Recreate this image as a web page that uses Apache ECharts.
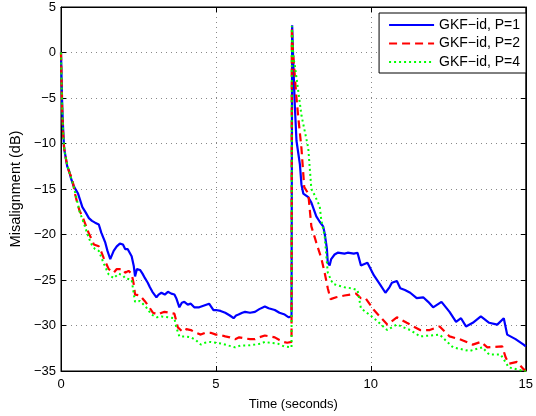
<!DOCTYPE html>
<html>
<head>
<meta charset="utf-8">
<script src="https://cdn.jsdelivr.net/npm/echarts@6/dist/echarts.min.js"></script>
<style>html,body{margin:0;padding:0;background:#fff}#c{width:536px;height:416px}</style>
</head>
<body>
<div id="c"></div>
<script>
var xTicks = [0, 5, 10, 15];
var yTicks = [5, 0, -5, -10, -15, -20, -25, -30, -35];
var seriesNames = ['GKF\u2212id, P=1', 'GKF\u2212id, P=2', 'GKF\u2212id, P=4'];

var tP1 = [0,0.02,0.04,0.07,0.1,0.15,0.2,0.26,0.32,0.4,0.48,0.55,0.6,0.69,0.8,0.9,1.0,1.1,1.22,1.3,1.43,1.5,1.59,1.7,1.8,1.9,2.0,2.07,2.15,2.28,2.35,2.39,2.45,2.55,2.63,2.71,2.8,2.87,2.95,3.08,3.15,3.24,3.35,3.45,3.56,3.66,3.72,3.82,3.9,3.98,4.09,4.19,4.3,4.46,4.62,4.78,4.92,5.0,5.15,5.3,5.45,5.57,5.65,5.73,5.85,5.94,6.1,6.26,6.4,6.58,6.7,6.9,7.05,7.22,7.35,7.44,7.46,7.5,7.55,7.6,7.71,7.76,7.82,7.98,8.08,8.24,8.35,8.46,8.51,8.58,8.61,8.67,8.72,8.83,8.93,8.99,9.15,9.25,9.31,9.45,9.57,9.68,9.89,10.1,10.3,10.47,10.6,10.68,10.84,10.95,11.1,11.27,11.48,11.69,11.85,12.01,12.28,12.54,12.75,12.91,13.07,13.29,13.55,13.82,14.08,14.29,14.4,14.67,14.93,15];
var vP1 = [0,-3,-6,-8.5,-10.5,-11.5,-12.5,-13,-13.8,-14.6,-15.1,-15.5,-15.4,-17,-17.6,-18.2,-18.5,-18.7,-18.9,-19.8,-20.9,-21.8,-22.7,-21.8,-21.3,-21.0,-21.1,-21.6,-21.6,-22.4,-23.5,-24.6,-23.8,-23.9,-24.3,-24.8,-25.3,-25.8,-26.3,-26.9,-26.6,-26.4,-26.6,-26.3,-26.5,-26.6,-27,-28,-27.5,-27.4,-27.7,-27.6,-28,-28,-27.8,-27.6,-28.3,-28.3,-28.4,-28.6,-28.9,-29.2,-28.9,-28.8,-28.6,-28.5,-28.6,-28.5,-28.2,-27.9,-28.1,-28.3,-28.6,-28.8,-29.1,-29,3,-1.5,-6.1,-9.7,-12.3,-14.5,-15.5,-15.9,-16.5,-18,-18.6,-19.1,-19.9,-21.5,-23.1,-23.4,-22.7,-22.2,-22,-21.8,-22.1,-22.0,-21.9,-22.1,-22.0,-23.4,-23.1,-24.5,-25.5,-26.4,-25.8,-25.3,-25.1,-25.9,-26.1,-26.4,-27,-26.9,-27.4,-28,-27.4,-28.5,-29.6,-29.2,-30.1,-29.7,-29,-29.7,-29.9,-29.2,-31,-31.5,-32.1,-32.3];

var tP2 = [0,0.02,0.04,0.07,0.1,0.17,0.25,0.37,0.45,0.53,0.6,0.69,0.8,0.9,1.0,1.06,1.22,1.3,1.38,1.54,1.7,1.8,1.86,2.0,2.07,2.18,2.28,2.35,2.39,2.55,2.7,2.81,2.97,3.13,3.25,3.34,3.5,3.66,3.72,3.77,3.93,4.05,4.19,4.35,4.51,4.65,4.83,5.0,5.1,5.3,5.45,5.62,5.75,5.9,6.1,6.26,6.4,6.58,6.75,6.9,7.05,7.17,7.3,7.44,7.45,7.48,7.6,7.66,7.76,7.85,7.98,8.08,8.24,8.4,8.51,8.61,8.7,8.88,9.15,9.52,9.68,9.83,10.1,10.53,10.84,11.16,11.59,11.9,12.22,12.54,12.86,13.29,13.55,13.76,14.24,14.35,14.45,14.72,14.93,15];
var vP2 = [0,-3.5,-6.5,-9,-10.5,-11.9,-13,-14,-15.5,-16.6,-17.4,-18,-19,-19.9,-20.6,-21.1,-21.3,-21.9,-22.6,-23.8,-24.2,-23.8,-23.6,-23.8,-24.2,-24.0,-24.3,-25.5,-26.6,-26.7,-27.3,-27.8,-28.6,-28.8,-28.6,-28.5,-28.6,-28.7,-29.5,-30.2,-30.7,-30.4,-30.5,-30.8,-31,-30.8,-30.8,-31,-31,-31.2,-31.3,-31.5,-31.3,-31.4,-31.5,-31.5,-31.3,-31.1,-31.2,-31.3,-31.6,-31.8,-31.9,-31.8,2.8,0.4,-5,-7.2,-10.5,-14.8,-15.5,-19.1,-20.9,-22.6,-24.2,-25.9,-27.1,-26.9,-26.7,-26.5,-27,-27,-28.3,-29.9,-29.1,-29.7,-30.5,-30.5,-30.1,-31.2,-31.5,-32.1,-31.8,-32.4,-32.3,-33.5,-34.2,-34,-34.8,-35];

var tP4 = [0,0.02,0.05,0.08,0.12,0.2,0.3,0.4,0.5,0.6,0.7,0.8,0.9,1.0,1.1,1.22,1.38,1.54,1.7,1.86,2.0,2.07,2.28,2.39,2.55,2.75,2.92,3.1,3.24,3.45,3.66,3.72,3.82,4.0,4.19,4.35,4.51,4.65,4.83,5.0,5.2,5.4,5.62,5.8,6.0,6.26,6.45,6.58,6.75,7.0,7.2,7.44,7.45,7.5,7.55,7.66,7.76,7.98,8.08,8.19,8.35,8.4,8.51,8.61,8.77,8.93,9.15,9.36,9.57,9.68,10.1,10.53,10.84,11.27,11.59,12.22,12.65,13.18,13.6,13.82,14.19,14.45,14.93,15];
var vP4 = [0,-3.5,-7,-9.5,-11,-12.3,-13.5,-14.6,-16,-17.5,-18.4,-19.4,-20.4,-21.2,-21.6,-21.8,-23.2,-24.4,-24.8,-24.3,-24.5,-24.8,-25,-27.4,-27.3,-28,-28.8,-29.1,-29,-29.1,-29.2,-30.2,-31.2,-31.2,-31.3,-31.6,-32.1,-31.9,-31.8,-31.9,-32,-32.2,-32.4,-32.2,-32.2,-32.1,-32.0,-31.8,-31.9,-32,-32.3,-32.4,2.9,-0.5,-1.5,-4.3,-6.9,-10.5,-15,-15.7,-16.9,-18.4,-20.2,-24.2,-25.4,-25.6,-25.8,-25.9,-26.1,-28.1,-29.2,-30.5,-29.9,-30.5,-31.2,-31,-32.4,-32.8,-32.4,-33.2,-33.2,-34.6,-35,-35];

function pairs(t, v) { return t.map(function (x, i) { return [x, v[i]]; }); }
function minusFmt(v) { return String(v).replace('-', '\u2212'); }

var font = 'Liberation Sans, Arial, Helvetica, sans-serif';
var gridLine = { show: true, lineStyle: { color: '#888', type: [1, 4], width: 1 } };

var chart = echarts.init(document.getElementById('c'), null, { renderer: 'canvas' });
chart.setOption({
  animation: false,
  backgroundColor: '#fff',
  textStyle: { fontFamily: font },
  grid: { left: 60, right: 6, top: 7, bottom: 39, show: true, borderColor: '#000', borderWidth: 1, backgroundColor: '#fff' },
  legend: {
    orient: 'vertical', right: 10, top: 13,
    data: seriesNames,
    backgroundColor: '#fff', borderColor: '#000', borderWidth: 1,
    padding: [5, 6, 4, 9], itemGap: 4.5, itemWidth: 45, itemHeight: 14,
    itemStyle: { opacity: 0 },
    textStyle: { fontSize: 14, color: '#000', fontFamily: font }
  },
  xAxis: [{
    type: 'value', min: xTicks[0], max: xTicks[xTicks.length - 1], interval: 5,
    name: 'Time (seconds)', nameLocation: 'middle', nameGap: 27,
    nameTextStyle: { fontSize: 13, color: '#000', fontFamily: font },
    axisLine: { show: true, onZero: false, lineStyle: { color: '#000' } },
    axisTick: { show: true, inside: true, length: 5, lineStyle: { color: '#000' } },
    axisLabel: { color: '#000', fontSize: 13, margin: 7, fontFamily: font },
    splitLine: gridLine
  }, {
    type: 'value', position: 'top', min: 0, max: 15, interval: 5,
    axisLine: { show: true, onZero: false, lineStyle: { color: '#000' } },
    axisTick: { show: true, inside: true, length: 5, lineStyle: { color: '#000' } },
    axisLabel: { show: false }, splitLine: { show: false }
  }],
  yAxis: [{
    type: 'value', min: yTicks[yTicks.length - 1], max: yTicks[0], interval: 5,
    name: 'Misalignment (dB)', nameLocation: 'middle', nameGap: 38,
    nameTextStyle: { fontSize: 14.5, color: '#000', fontFamily: font },
    axisLine: { show: true, onZero: false, lineStyle: { color: '#000' } },
    axisTick: { show: true, inside: true, length: 5, lineStyle: { color: '#000' } },
    axisLabel: { color: '#000', fontSize: 13, margin: 5, formatter: minusFmt, fontFamily: font },
    splitLine: gridLine
  }, {
    type: 'value', position: 'right', min: -35, max: 5, interval: 5,
    axisLine: { show: true, onZero: false, lineStyle: { color: '#000' } },
    axisTick: { show: true, inside: true, length: 5, lineStyle: { color: '#000' } },
    axisLabel: { show: false }, splitLine: { show: false }
  }],
  series: [
    { name: seriesNames[0], type: 'line', data: pairs(tP1, vP1), symbol: 'none', color: '#0000ff',
      lineStyle: { color: '#0000ff', width: 2.2, type: 'solid' }, z: 3 },
    { name: seriesNames[1], type: 'line', data: pairs(tP2, vP2), symbol: 'none', color: '#ff0000',
      lineStyle: { color: '#ff0000', width: 2.2, type: [8, 5] }, z: 4 },
    { name: seriesNames[2], type: 'line', data: pairs(tP4, vP4), symbol: 'none', color: '#00ff00',
      lineStyle: { color: '#00ff00', width: 2, type: [2, 3] }, z: 5 }
  ]
});
</script>
</body>
</html>
